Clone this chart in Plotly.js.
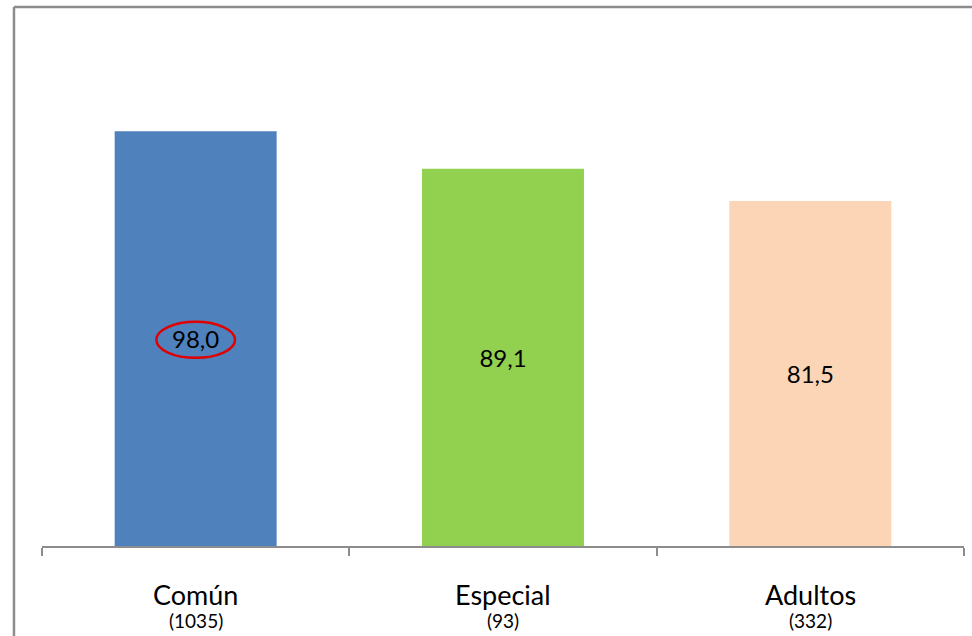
<!DOCTYPE html>
<html>
<head>
<meta charset="utf-8">
<script src="https://cdn.plot.ly/plotly-3.0.1.min.js"></script>
<style>html,body{margin:0;padding:0;background:#fff;overflow:hidden;}#chart{width:972px;height:636px;}</style>
</head>
<body>
<div id="chart"></div>
<script>
const categories = ["Común", "Especial", "Adultos"];
const counts = ["1035", "93", "332"];
const values = [98.0, 89.1, 81.5];
const barColors = ["#4F81BD", "#92D050", "#FBD5B5"];
const highlightIndex = 0;

const labels = values.map(v => v.toFixed(1).replace('.', ','));

const trace = {
  type: 'bar',
  x: categories,
  y: values,
  marker: {color: barColors, line: {width: 0}},
  text: labels,
  textposition: 'inside',
  insidetextanchor: 'middle',
  textangle: 0,
  textfont: {family: 'Lato, sans-serif', size: 24, color: '#000'},
  hoverinfo: 'none',
  width: 0.527
};

const annotations = [];
categories.forEach((c, i) => {
  annotations.push({xref: 'x', yref: 'paper', x: c, y: 0, yanchor: 'middle', xanchor: 'center',
    yshift: -48, text: c, showarrow: false,
    font: {family: 'Lato, sans-serif', size: 27, color: '#000'}});
  annotations.push({xref: 'x', yref: 'paper', x: c, y: 0, yanchor: 'middle', xanchor: 'center',
    yshift: -74, text: '(' + counts[i] + ')', showarrow: false,
    font: {family: 'Lato, sans-serif', size: 19, color: '#000'}});
});

const hv = values[highlightIndex];
const layout = {
  width: 972, height: 636,
  margin: {l: 42, r: 8, t: 38, b: 90},
  paper_bgcolor: '#fff', plot_bgcolor: '#fff',
  showlegend: false,
  font: {family: 'Lato, sans-serif', color: '#000'},
  xaxis: {
    type: 'category',
    tickson: 'boundaries',
    ticks: 'outside', ticklen: 8, tickwidth: 2, tickcolor: '#8c8c8c',
    showticklabels: false,
    showline: true, linecolor: '#8c8c8c', linewidth: 2,
    showgrid: false, zeroline: false,
    range: [-0.5, 2.5]
  },
  yaxis: {
    range: [0, 120], visible: false, showgrid: false, zeroline: false
  },
  annotations: annotations,
  shapes: [
    {type: 'line', xref: 'paper', yref: 'paper',
     x0: -0.0304, x1: -0.0304, y0: -0.3, y1: 1.061,
     line: {color: '#8c8c8c', width: 2.5}, layer: 'above'},
    {type: 'line', xref: 'paper', yref: 'paper',
     x0: -0.0304, x1: 1.1, y0: 1.061, y1: 1.061,
     line: {color: '#8c8c8c', width: 2.5}, layer: 'above'},
    {type: 'circle', xref: 'x', yref: 'y',
     x0: highlightIndex - 0.128, x1: highlightIndex + 0.128,
     y0: hv * 0.4535, y1: hv * 0.5405,
     line: {color: '#E00000', width: 2.5}, layer: 'above'}
  ]
};

Plotly.newPlot('chart', [trace], layout, {staticPlot: true, displayModeBar: false});
</script>
</body>
</html>
